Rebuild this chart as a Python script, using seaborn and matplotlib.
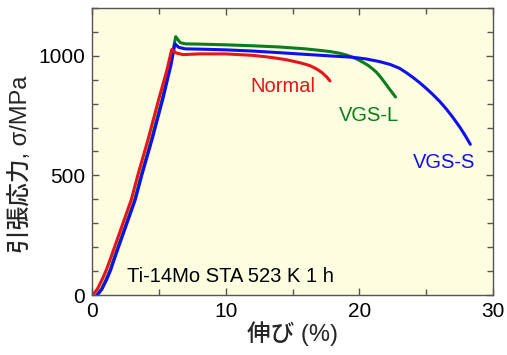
import numpy as np
import pandas as pd
import seaborn as sns
import matplotlib
matplotlib.use("Agg")
import matplotlib.pyplot as plt
from matplotlib.ticker import MultipleLocator

# stress-strain curves (strain %, stress MPa)
normal_x = [0.05, 0.4, 0.8, 1.07, 1.4, 1.7, 2.0, 2.32, 2.94, 3.44, 4.19, 5.0, 5.6, 5.96,
            6.3, 6.8, 8, 10, 12, 13, 13.8, 14.5, 15, 15.7, 16.3, 16.8, 17.2, 17.55, 17.8]
normal_y = [0, 25, 70, 105, 155, 203, 250, 301, 399, 504, 650, 820, 940, 1026,
            1012, 1005, 1008, 1008, 1002, 996, 990, 984, 978, 969, 959, 945, 930, 912, 895]

vgsl_x = [0.35, 0.7, 1.05, 1.35, 1.65, 1.95, 2.25, 2.57, 3.19, 3.69, 4.44, 5.25, 5.85, 6.26,
          6.6, 7.0, 8, 10, 12, 14, 16, 17.8, 18.5, 19, 19.4, 19.8, 20.2, 20.6, 21, 21.3,
          21.6, 21.9, 22.2, 22.5, 22.7]
vgsl_y = [0, 25, 65, 105, 155, 203, 250, 301, 399, 504, 650, 820, 960, 1080,
          1055, 1050, 1049, 1046, 1042, 1037, 1029, 1018, 1011, 1004, 996, 987, 975, 962, 945, 930,
          910, 888, 865, 843, 828]

vgss_x = [0.4, 0.75, 1.1, 1.4, 1.7, 2.0, 2.3, 2.62, 3.24, 3.74, 4.49, 5.3, 5.9, 6.2,
          6.5, 7.0, 8, 10, 12, 14.06, 16, 18, 19.5, 20.5, 21.5, 22.3, 23, 23.5, 24, 24.5,
          25, 25.5, 26, 26.5, 27, 27.5, 27.9, 28.3]
vgss_y = [0, 25, 65, 105, 155, 203, 250, 301, 399, 504, 650, 820, 960, 1050,
          1035, 1029, 1028, 1025, 1020, 1013, 1006, 999, 994, 987, 976, 964, 948, 930, 910, 888,
          864, 838, 810, 778, 742, 703, 668, 630]

series = ["VGS-L", "VGS-S", "Normal"]
colors = {"Normal": "#e8141c", "VGS-L": "#0b7d1e", "VGS-S": "#1010ee"}

df = pd.concat([
    pd.DataFrame({"strain": vgsl_x, "stress": vgsl_y, "sample": "VGS-L"}),
    pd.DataFrame({"strain": vgss_x, "stress": vgss_y, "sample": "VGS-S"}),
    pd.DataFrame({"strain": normal_x, "stress": normal_y, "sample": "Normal"}),
])

sns.set_style("ticks")
plt.rcParams['font.family'] = ['Liberation Sans', 'Noto Sans CJK JP']

fig = plt.figure(figsize=(5.07, 3.55), dpi=100)
ax = fig.add_axes([0.1815, 0.169, 0.791, 0.8085])
ax.set_facecolor("#fdfddf")

for name in series:
    sns.lineplot(data=df[df["sample"] == name], x="strain", y="stress", sort=False,
                 color=colors[name], lw=2.2, ax=ax, legend=False)

ax.set_xlim(0, 30)
ax.set_ylim(0, 1200)
ax.xaxis.set_major_locator(MultipleLocator(10))
ax.xaxis.set_minor_locator(MultipleLocator(5))
ax.yaxis.set_major_locator(MultipleLocator(500))
ax.yaxis.set_minor_locator(MultipleLocator(100))
ax.tick_params(which="both", direction="in", top=True, right=True, colors="#555555",
               labelcolor="black", labelsize=15, width=1)
ax.tick_params(which="major", length=5, pad=5)
ax.tick_params(which="minor", length=4)
for sp in ax.spines.values():
    sp.set_color("#555555")
    sp.set_linewidth(1)

# medium weight picks the heavier CJK face, Latin stays regular
ax.set_xlabel("伸び (%)", fontsize=17, fontweight="medium", labelpad=0)
ax.set_ylabel("引張応力, σ/MPa", fontsize=17, fontweight="medium")
ax.yaxis.set_label_coords(-0.15, 0.456)

ax.text(14.3, 870, "Normal", color=colors["Normal"], fontsize=14.5, ha="center", va="center")
ax.text(20.7, 752, "VGS-L", color=colors["VGS-L"], fontsize=14.5, ha="center", va="center")
ax.text(26.3, 555, "VGS-S", color=colors["VGS-S"], fontsize=14.5, ha="center", va="center")
ax.text(2.6, 55, "Ti-14Mo STA 523 K 1 h", color="black", fontsize=14.5, ha="left", va="baseline")

fig.savefig("out.png", dpi=100)
